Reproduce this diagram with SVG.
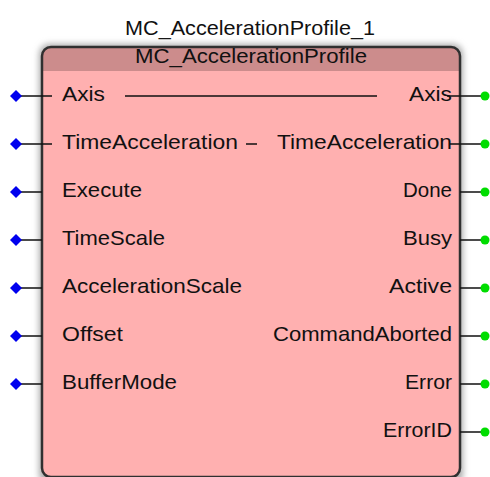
<svg xmlns="http://www.w3.org/2000/svg" width="490" height="477" viewBox="0 0 490 477">
<defs>
<filter id="sh" x="-10%" y="-10%" width="120%" height="120%">
<feGaussianBlur stdDeviation="3"/>
</filter>
<clipPath id="blk"><rect x="42" y="47" width="418" height="430" rx="9"/></clipPath>
</defs>
<style>
text{font-family:"Liberation Sans",Arial,sans-serif;font-size:21px;fill:#111}
.in{text-anchor:start}
.out{text-anchor:end}
.w{stroke:#111;stroke-width:1.6;fill:none}
.d{fill:#0000ee}
.g{fill:#00dd00}
</style>
<rect width="490" height="477" fill="#fff"/>
<text id="title" x="125" y="35" textLength="250" lengthAdjust="spacingAndGlyphs">MC_AccelerationProfile_1</text>
<g id="block">
<rect x="39" y="44" width="424" height="440" rx="10" fill="#aaa" filter="url(#sh)"/>
<rect x="42" y="47" width="418" height="430" rx="9" fill="#ffb0b0"/>
<rect x="42" y="47" width="418" height="24" fill="#cc8c8c" clip-path="url(#blk)"/>
<rect x="42" y="47" width="418" height="430" rx="9" fill="none" stroke="#303030" stroke-width="2.5"/>
<text x="135" y="63" textLength="232" lengthAdjust="spacingAndGlyphs" clip-path="url(#blk)">MC_AccelerationProfile</text>
</g>
<g id="connectors">
<path class="w" d="M16 96H52M16 144H52M16 192H42M16 240H42M16 288H42M16 336H42M16 384H42"/>
<path class="w" d="M125 96H377M246 144H257"/>
<path class="w" d="M447 96H485M450 144H485M460 192H485M460 240H485M460 288H485M460 336H485M460 384H485M460 432H485"/>
</g>
<g id="inputs">
<g id="in-axis"><path class="d" d="M16 90L22 96L16 102L10 96Z"/><text class="in" x="62" y="101" textLength="43" lengthAdjust="spacingAndGlyphs">Axis</text></g>
<g id="in-timeacc"><path class="d" d="M16 138L22 144L16 150L10 144Z"/><text class="in" x="62" y="149" textLength="176" lengthAdjust="spacingAndGlyphs">TimeAcceleration</text></g>
<g id="in-execute"><path class="d" d="M16 186L22 192L16 198L10 192Z"/><text class="in" x="62" y="197" textLength="80" lengthAdjust="spacingAndGlyphs">Execute</text></g>
<g id="in-timescale"><path class="d" d="M16 234L22 240L16 246L10 240Z"/><text class="in" x="62" y="245" textLength="103" lengthAdjust="spacingAndGlyphs">TimeScale</text></g>
<g id="in-accscale"><path class="d" d="M16 282L22 288L16 294L10 288Z"/><text class="in" x="62" y="293" textLength="180" lengthAdjust="spacingAndGlyphs">AccelerationScale</text></g>
<g id="in-offset"><path class="d" d="M16 330L22 336L16 342L10 336Z"/><text class="in" x="62" y="341" textLength="61" lengthAdjust="spacingAndGlyphs">Offset</text></g>
<g id="in-buffermode"><path class="d" d="M16 378L22 384L16 390L10 384Z"/><text class="in" x="62" y="389" textLength="115" lengthAdjust="spacingAndGlyphs">BufferMode</text></g>
</g>
<g id="outputs">
<g id="out-axis"><circle class="g" cx="485" cy="96" r="4.5"/><text class="out" x="452" y="101" textLength="43" lengthAdjust="spacingAndGlyphs">Axis</text></g>
<g id="out-timeacc"><circle class="g" cx="485" cy="144" r="4.5"/><text class="out" x="452" y="149" textLength="175" lengthAdjust="spacingAndGlyphs">TimeAcceleration</text></g>
<g id="out-done"><circle class="g" cx="485" cy="192" r="4.5"/><text class="out" x="452" y="197" textLength="49" lengthAdjust="spacingAndGlyphs">Done</text></g>
<g id="out-busy"><circle class="g" cx="485" cy="240" r="4.5"/><text class="out" x="452" y="245" textLength="49" lengthAdjust="spacingAndGlyphs">Busy</text></g>
<g id="out-active"><circle class="g" cx="485" cy="288" r="4.5"/><text class="out" x="452" y="293" textLength="63" lengthAdjust="spacingAndGlyphs">Active</text></g>
<g id="out-cmdaborted"><circle class="g" cx="485" cy="336" r="4.5"/><text class="out" x="452" y="341" textLength="179" lengthAdjust="spacingAndGlyphs">CommandAborted</text></g>
<g id="out-error"><circle class="g" cx="485" cy="384" r="4.5"/><text class="out" x="452" y="389" textLength="47" lengthAdjust="spacingAndGlyphs">Error</text></g>
<g id="out-errorid"><circle class="g" cx="485" cy="432" r="4.5"/><text class="out" x="452" y="437" textLength="69" lengthAdjust="spacingAndGlyphs">ErrorID</text></g>
</g>
</svg>
